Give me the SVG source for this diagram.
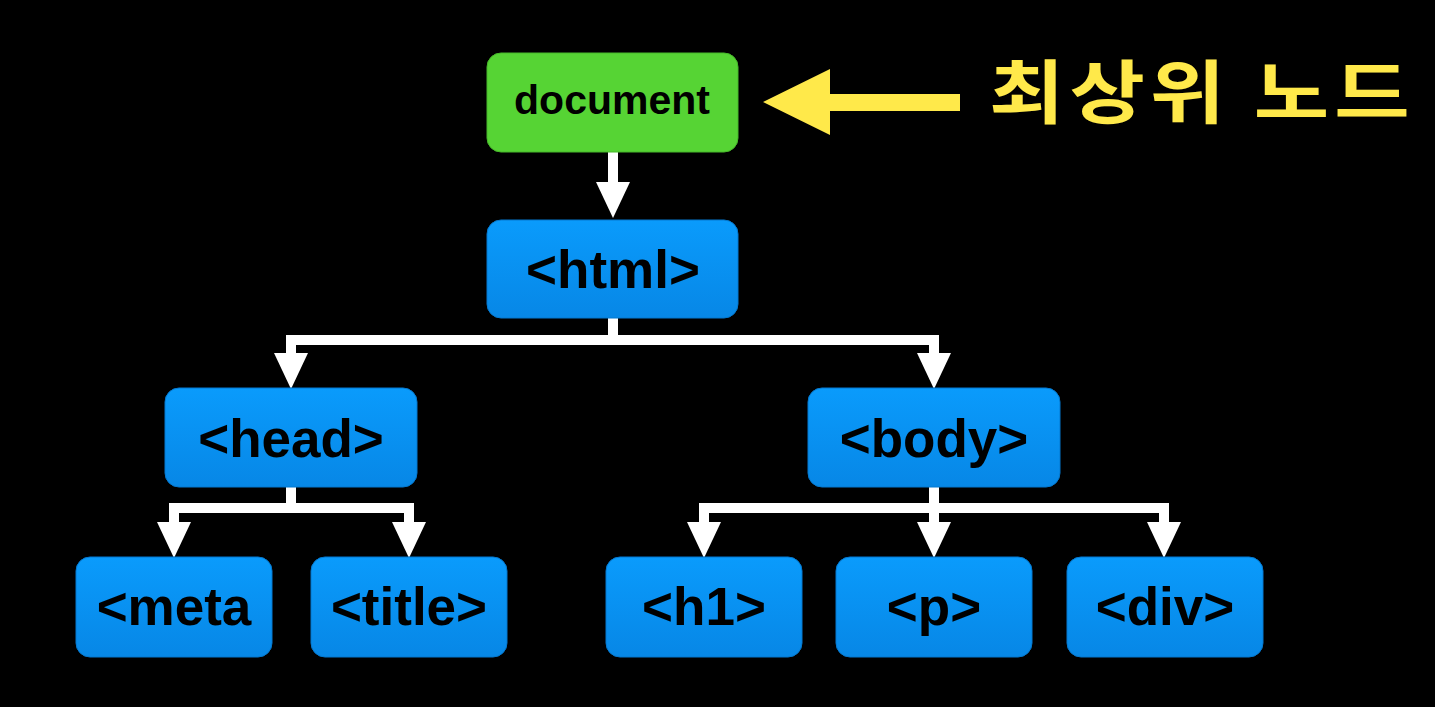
<svg xmlns="http://www.w3.org/2000/svg" width="1435" height="707" viewBox="0 0 1435 707">
<defs>
<linearGradient id="blue" x1="0" y1="0" x2="0" y2="1">
<stop offset="0" stop-color="#0A9BFC"/>
<stop offset="1" stop-color="#0787E6"/>
</linearGradient>
<marker id="ah" markerUnits="userSpaceOnUse" markerWidth="36" markerHeight="34" refX="0" refY="17" orient="auto" viewBox="0 0 36 34">
<path d="M0,0 L36,17 L0,34 z" fill="#FFFFFF"/>
</marker>
<style>
.box{fill:url(#blue);stroke:#0479D0;stroke-width:1}
.doc{fill:#56D434;stroke:#47B82A;stroke-width:1}
.lbl{font-family:"Liberation Sans",Arial,sans-serif;font-weight:bold;fill:#000;text-anchor:middle}
.big{font-size:53px}
.conn{fill:none;stroke:#FFFFFF;stroke-width:10;stroke-linejoin:miter;marker-end:url(#ah)}
</style>
</defs>
<rect x="0" y="0" width="1435" height="707" fill="#000"/>
<g id="connectors">
<path class="conn" d="M613,152 V182"/>
<path class="conn" d="M613,318 V340 H291 V353"/>
<path class="conn" d="M613,340 H934 V353"/>
<path class="conn" d="M291,487 V508 H174 V522"/>
<path class="conn" d="M291,508 H409 V522"/>
<path class="conn" d="M934,487 V508 H704 V522"/>
<path class="conn" d="M934,508 V522"/>
<path class="conn" d="M934,508 H1164 V522"/>
</g>
<g id="document">
<rect class="doc" x="487" y="53" width="251" height="99" rx="14"/>
<text class="lbl" x="612" y="114" font-size="41">document</text>
</g>
<g id="label-top">
<polygon points="763,102 830,69 830,94 960,94 960,111 830,111 830,135" fill="#FFE94A"/>
<text transform="translate(989,118) scale(1,0.85)" x="0" y="0" font-family="'Noto Sans CJK KR','Noto Sans',sans-serif" font-weight="bold" font-size="82" letter-spacing="5" fill="#FFE94A">최상위 노드</text>
</g>
<g id="html">
<rect class="box" x="487" y="220" width="251" height="98" rx="14"/>
<text class="lbl big" x="613" y="288">&lt;html&gt;</text>
</g>
<g id="head">
<rect class="box" x="165" y="388" width="252" height="99" rx="14"/>
<text class="lbl big" x="291" y="457">&lt;head&gt;</text>
</g>
<g id="body">
<rect class="box" x="808" y="388" width="252" height="99" rx="14"/>
<text class="lbl big" x="934" y="457">&lt;body&gt;</text>
</g>
<g id="meta">
<rect class="box" x="76" y="557" width="196" height="100" rx="14"/>
<text class="lbl big" x="174" y="625">&lt;meta</text>
</g>
<g id="title">
<rect class="box" x="311" y="557" width="196" height="100" rx="14"/>
<text class="lbl big" x="409" y="625">&lt;title&gt;</text>
</g>
<g id="h1">
<rect class="box" x="606" y="557" width="196" height="100" rx="14"/>
<text class="lbl big" x="704" y="625">&lt;h1&gt;</text>
</g>
<g id="p">
<rect class="box" x="836" y="557" width="196" height="100" rx="14"/>
<text class="lbl big" x="934" y="625">&lt;p&gt;</text>
</g>
<g id="div">
<rect class="box" x="1067" y="557" width="196" height="100" rx="14"/>
<text class="lbl big" x="1165" y="625">&lt;div&gt;</text>
</g>
</svg>
